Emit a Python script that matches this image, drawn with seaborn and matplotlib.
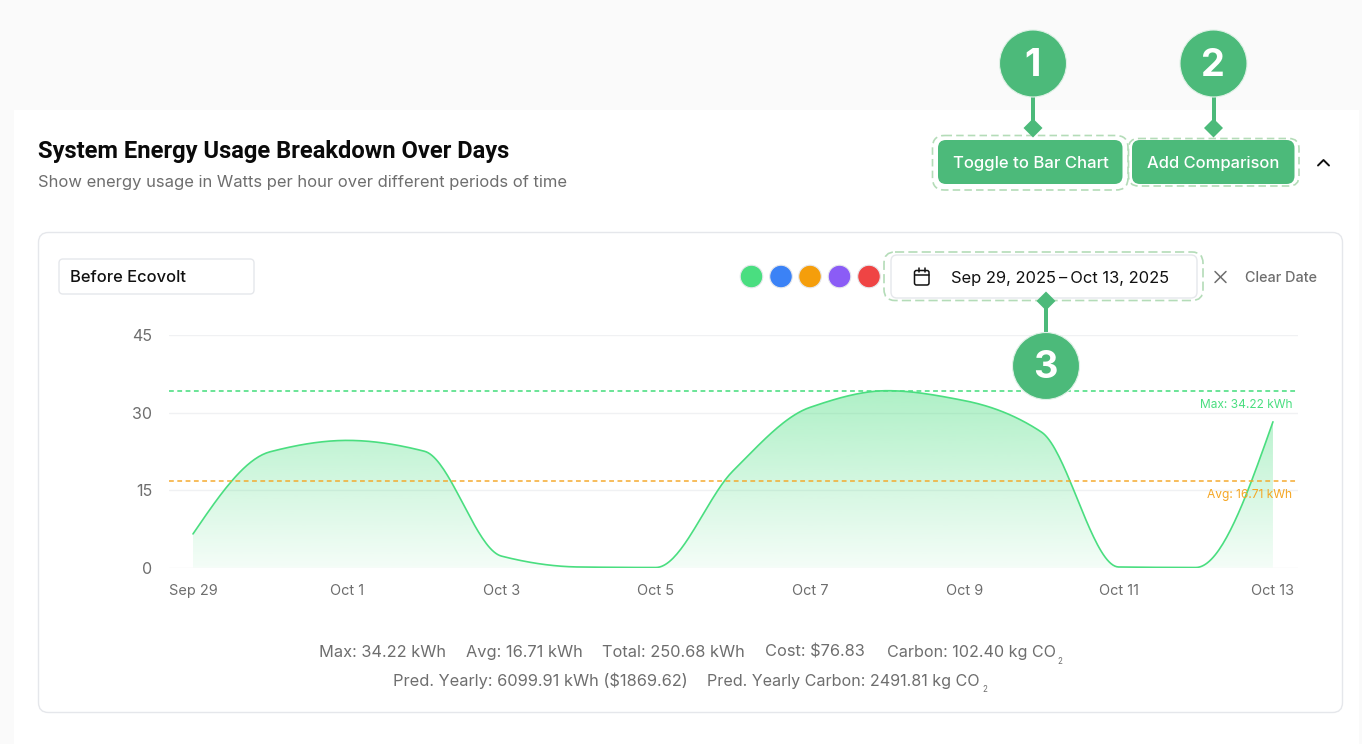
import numpy as np
import matplotlib
matplotlib.use("Agg")
import matplotlib.pyplot as plt
import seaborn as sns
from matplotlib.patches import FancyBboxPatch, Circle, Polygon, Rectangle

sns.set_theme(style="white")
plt.rcParams['font.family'] = ['Inter', 'DejaVu Sans']

# values
days = list(range(15))
usage = [6.5, 22.4, 24.6, 22.5, 2.2, 0.1, 0.0, 18.7, 31.0, 34.22, 32.3, 26.2, 0.1, 0.0, 28.2]
day_labels = ["Sep 29", "Oct 1", "Oct 3", "Oct 5", "Oct 7", "Oct 9", "Oct 11", "Oct 13"]
day_ticks = [0, 2, 4, 6, 8, 10, 12, 14]
y_ticks = [0, 15, 30, 45]
max_value = 34.22
avg_value = 16.71
swatches = ["#4ade80", "#3b82f6", "#f59e0b", "#8b5cf6", "#ef4444"]

GREEN = "#4cba7a"
DASH = "#b4dcb8"
GRAY = "#6e6e6e"
W, H = 1362, 744


def px(size):
    # css pixels to points at dpi 100
    return size * 0.72


def monotone_curve(x, y, per_seg=40):
    # same curve type as the original chart (monotone cubic through the daily values)
    x = np.asarray(x, float)
    y = np.asarray(y, float)
    d = np.diff(y) / np.diff(x)
    m = np.zeros_like(y)
    for i in range(1, len(y) - 1):
        if d[i - 1] * d[i] > 0:
            m[i] = 2 * d[i - 1] * d[i] / (d[i - 1] + d[i])
    m[0] = (3 * d[0] - m[1]) / 2
    m[-1] = (3 * d[-1] - m[-2]) / 2
    xs, ys = [], []
    for i in range(len(x) - 1):
        t = np.linspace(0, 1, per_seg, endpoint=False)
        h00 = 2 * t**3 - 3 * t**2 + 1
        h10 = t**3 - 2 * t**2 + t
        h01 = -2 * t**3 + 3 * t**2
        h11 = t**3 - t**2
        xs.append(x[i] + t)
        ys.append(h00 * y[i] + h10 * m[i] + h01 * y[i + 1] + h11 * m[i + 1])
    xs.append(x[-1:])
    ys.append(y[-1:])
    return np.concatenate(xs), np.concatenate(ys)


def box(ax, x0, y0, x1, y1, r, **kw):
    p = FancyBboxPatch((x0 + r, y0 + r), x1 - x0 - 2 * r, y1 - y0 - 2 * r,
                       boxstyle="round,pad=%f,rounding_size=%f" % (r, r), **kw)
    ax.add_patch(p)
    return p


def pin(ax, cx, cy, stem_y, label):
    # numbered callout: circle, stem and little diamond
    ax.plot([cx, cx], [cy, stem_y], color=GREEN, lw=px(4), solid_capstyle="butt", zorder=4)
    ax.add_patch(Polygon([[cx, stem_y - 9.5], [cx + 9.5, stem_y], [cx, stem_y + 9.5], [cx - 9.5, stem_y]],
                         closed=True, fc=GREEN, ec="none", zorder=4))
    ax.add_patch(Circle((cx, cy), 33.5, fc=GREEN, ec="#dff1e6", lw=0.8, zorder=5))
    ax.text(cx - 1, cy + 2, label, color="white", fontsize=px(38), fontweight="bold",
            ha="center", va="center", zorder=6)


fig = plt.figure(figsize=(W / 100, H / 100), dpi=100, facecolor="white")

# page background and cards
bg = fig.add_axes([0, 0, 1, 1], zorder=0)
bg.set_xlim(0, W)
bg.set_ylim(H, 0)
bg.axis("off")
bg.add_patch(Rectangle((0, 0), W, H, fc="#fafafa", ec="none"))
bg.add_patch(Rectangle((14, 110), 1345, H - 110, fc="white", ec="none"))
box(bg, 38.5, 232.5, 1342.5, 712.5, 10, fc="white", ec="#e5e7eb", lw=1)

# chart, axes placed on the card
left, right, top, bottom = 169, 1298, 335, 567.5
ax = fig.add_axes([left / W, 1 - bottom / H, (right - left) / W, (bottom - top) / H], zorder=1)
ax.patch.set_alpha(0)
curve_x, curve_y = monotone_curve(days, usage)

ax.set_xlim((left - 193) / 77.14, (right - 193) / 77.14)
ax.set_ylim(0, 45)
ax.set_yticks(y_ticks)
ax.set_xticks(day_ticks)
ax.set_xticklabels(day_labels)
ax.tick_params(axis="x", length=0, pad=12, labelsize=px(14.5), labelcolor=GRAY)
ax.tick_params(axis="y", length=0, pad=12, labelsize=px(16), labelcolor=GRAY)
ax.grid(axis="y", color="#f0f1f3", lw=1)
ax.set_axisbelow(True)
sns.despine(ax=ax, left=True, bottom=True, top=True, right=True)

# gradient under the curve
grad = np.zeros((256, 1, 4))
grad[..., 0] = 0x4a / 255
grad[..., 1] = 0xde / 255
grad[..., 2] = 0x80 / 255
grad[..., 3] = np.linspace(0.44, 0.06, 256)[:, None]
im = ax.imshow(grad, extent=[0, 14, 0, max_value], origin="upper", aspect="auto", zorder=2)
clip = ax.fill_between(curve_x, 0, curve_y, color="none", lw=0)
im.set_clip_path(clip.get_paths()[0], transform=ax.transData)

sns.lineplot(x=curve_x, y=curve_y, ax=ax, color="#4ade80", lw=1.2, errorbar=None, estimator=None, zorder=3)
ax.axhline(max_value, color="#4ade80", lw=1.15, dashes=(3, 2.2), zorder=3)
ax.axhline(avg_value, color="#f5a623", lw=1.15, dashes=(3, 2.2), alpha=0.9, zorder=3)
ax.set_xlabel("")
ax.set_ylabel("")

# everything of the page around the chart
ui = fig.add_axes([0, 0, 1, 1], zorder=2)
ui.set_xlim(0, W)
ui.set_ylim(H, 0)
ui.axis("off")
ui.patch.set_alpha(0)

ui.text(1292, 405, "Max: 34.22 kWh", color="#4ade80", fontsize=px(12), ha="right", va="center")
ui.text(1292, 495, "Avg: 16.71 kWh", color="#f5a623", fontsize=px(12), ha="right", va="center")

ui.text(38, 151.5, "System Energy Usage Breakdown Over Days", color="#0a0a0a", fontsize=px(23.8),
        fontweight="bold", family=["Roboto", "DejaVu Sans"], ha="left", va="center")
ui.text(38, 182, "Show energy usage in Watts per hour over different periods of time", color=GRAY,
        fontsize=px(16.6), ha="left", va="center")

# buttons
box(ui, 932.5, 135.5, 1128, 190, 12, fc="none", ec=DASH, lw=1.2, ls=(0, (4.5, 2.5)))
box(ui, 1128.5, 138.5, 1299, 186, 10, fc="none", ec=DASH, lw=1.2, ls=(0, (4.5, 2.5)))
box(ui, 938, 140, 1122.5, 184, 8, fc=GREEN, ec="none")
box(ui, 1132, 140, 1294.5, 184, 8, fc=GREEN, ec="none")
ui.text(1030.5, 163.5, "Toggle to Bar Chart", color="white", fontsize=px(16.7), fontweight="medium", ha="center", va="center")
ui.text(1213.5, 163.5, "Add Comparison", color="white", fontsize=px(16.5), fontweight="medium", ha="center", va="center")
ui.plot([1318, 1323.5, 1329], [165.5, 160, 165.5], color="#111111", lw=1.4)

# dropdown
box(ui, 59, 259, 254, 294, 4, fc="white", ec="#e5e7eb", lw=1)
ui.text(70, 278, "Before Ecovolt", color="#111111", fontsize=px(16.5), fontweight="medium", ha="left", va="center")

# colour swatches
for cx, c in zip([751.5, 781, 810, 839.5, 869], swatches):
    ui.add_patch(Circle((cx, 276.5), 11.3, fc=c, ec="#e5e7eb", lw=0.8))

# date picker
box(ui, 884, 252, 1203, 300.5, 11, fc="none", ec=DASH, lw=1.2, ls=(0, (5.5, 2.5)))
box(ui, 891, 255, 1197, 298, 6, fc="white", ec="#e5e7eb", lw=1)
box(ui, 914.5, 270.5, 929, 285, 2, fc="none", ec="#111111", lw=1.1)
ui.plot([914.5, 929], [275, 275], color="#111111", lw=1.1)
ui.plot([918.5, 918.5], [268, 272], color="#111111", lw=1.1)
ui.plot([925, 925], [268, 272], color="#111111", lw=1.1)
ui.text(1060, 278, "Sep 29, 2025\u2009\u2013\u2009Oct 13, 2025", color="#111111", fontsize=px(16.5), ha="center", va="center")
ui.plot([1215, 1226], [271.5, 282.5], color=GRAY, lw=1.1)
ui.plot([1226, 1215], [271.5, 282.5], color=GRAY, lw=1.1)
ui.text(1245, 278, "Clear Date", color=GRAY, fontsize=px(14.4), fontweight="medium", ha="left", va="center")

# callouts
pin(ui, 1033, 63.5, 128, "1")
pin(ui, 1213.5, 63.5, 128, "2")
pin(ui, 1046, 366, 301, "3")

# stats under the chart
row1 = [(319, "Max: 34.22 kWh"), (466, "Avg: 16.71 kWh"), (602, "Total: 250.68 kWh"),
        (765, "Cost: $76.83"), (887, "Carbon: 102.40 kg CO")]
row2 = [(393, "Pred. Yearly: 6099.91 kWh ($1869.62)"), (707, "Pred. Yearly Carbon: 2491.81 kg CO")]
for x, s in row1:
    size = 16.1 if s.endswith("CO") else 16.4
    ui.text(x, 657, s, color=GRAY, fontsize=px(size), ha="left", va="baseline")
for x, s in row2:
    size = 16.1 if s.endswith("CO") else 16.4
    ui.text(x, 686, s, color=GRAY, fontsize=px(size), ha="left", va="baseline")
ui.text(1057, 661, "2", color=GRAY, fontsize=px(8), ha="left", va="center")
ui.text(982, 690, "2", color=GRAY, fontsize=px(8), ha="left", va="center")

fig.savefig("out.png", dpi=100)
